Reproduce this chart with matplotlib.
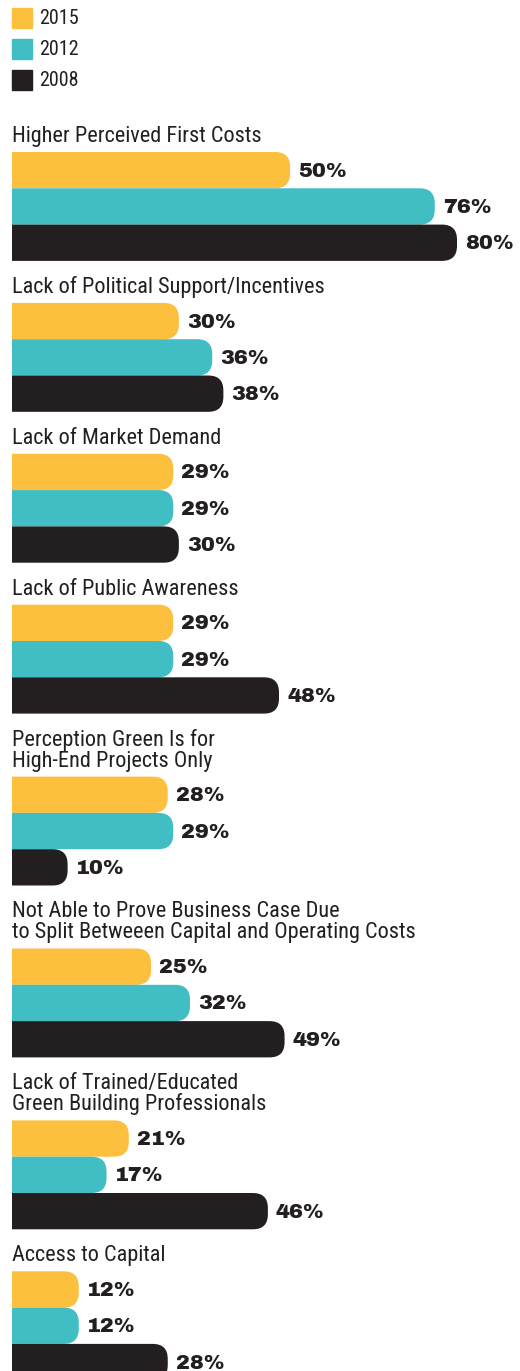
import matplotlib
matplotlib.use("Agg")
import matplotlib.pyplot as plt
from matplotlib.patches import FancyBboxPatch, Rectangle

years = ["2015", "2012", "2008"]
colors = ["#FDBF3E", "#41BEC3", "#231F20"]

categories = [
    "Higher Perceived First Costs",
    "Lack of Political Support/Incentives",
    "Lack of Market Demand",
    "Lack of Public Awareness",
    "Perception Green Is for\nHigh-End Projects Only",
    "Not Able to Prove Business Case Due\nto Split Betweeen Capital and Operating Costs",
    "Lack of Trained/Educated\nGreen Building Professionals",
    "Access to Capital",
]
values_2015 = [50, 30, 29, 29, 28, 25, 21, 12]
values_2012 = [76, 36, 29, 29, 29, 32, 17, 12]
values_2008 = [80, 38, 30, 48, 10, 49, 46, 28]

W, H = 520, 1371
PX = 5.5625          # pixels per percentage point
LEFT = 12            # bar start in pixels
BAR_H = 36.3
RADIUS = 15
TEXT = "#231F20"
label_font = ["Roboto Condensed", "Barlow Semi Condensed", "DejaVu Sans"]
value_font = ["Archivo Black", "DejaVu Sans"]

fig = plt.figure(figsize=(W / 100, H / 100), dpi=100)
ax = fig.add_axes([LEFT / W, 0, (W - LEFT) / W, 1])
ax.set_xlim(0, (W - LEFT) / PX)
ax.set_ylim(H, 0)
ax.axis("off")

# legend
for i, (yr, c) in enumerate(zip(years, colors)):
    top = 8 + 31 * i
    ax.add_patch(Rectangle((0, top), 20 / PX, 20, color=c, clip_on=False))
    ax.text(27 / PX, top + 10.5, yr, family=label_font, fontsize=14.5,
            color=TEXT, va="center", ha="left")

series = [values_2015, values_2012, values_2008]
baseline = 142
for gi, cat in enumerate(categories):
    lines = cat.split("\n")
    for li, line in enumerate(lines):
        ax.text(0, baseline + 21 * li, line, family=label_font, fontsize=16,
                color=TEXT, va="baseline", ha="left")
    top = baseline + 21 * (len(lines) - 1) + 10
    for si, vals in enumerate(series):
        v = vals[gi]
        y0 = top + BAR_H * si
        ax.add_patch(FancyBboxPatch(
            (-5, y0), v + 5, BAR_H,
            boxstyle=f"round,pad=0,rounding_size={RADIUS / PX}",
            mutation_aspect=PX, facecolor=colors[si], edgecolor="none"))
        ax.text(v + 8 / PX, y0 + BAR_H / 2 + 1, f"{v}%", family=value_font,
                fontsize=15, color=TEXT, va="center", ha="left")
    baseline = top + 3 * BAR_H + 32

fig.savefig("out.png", dpi=100)
